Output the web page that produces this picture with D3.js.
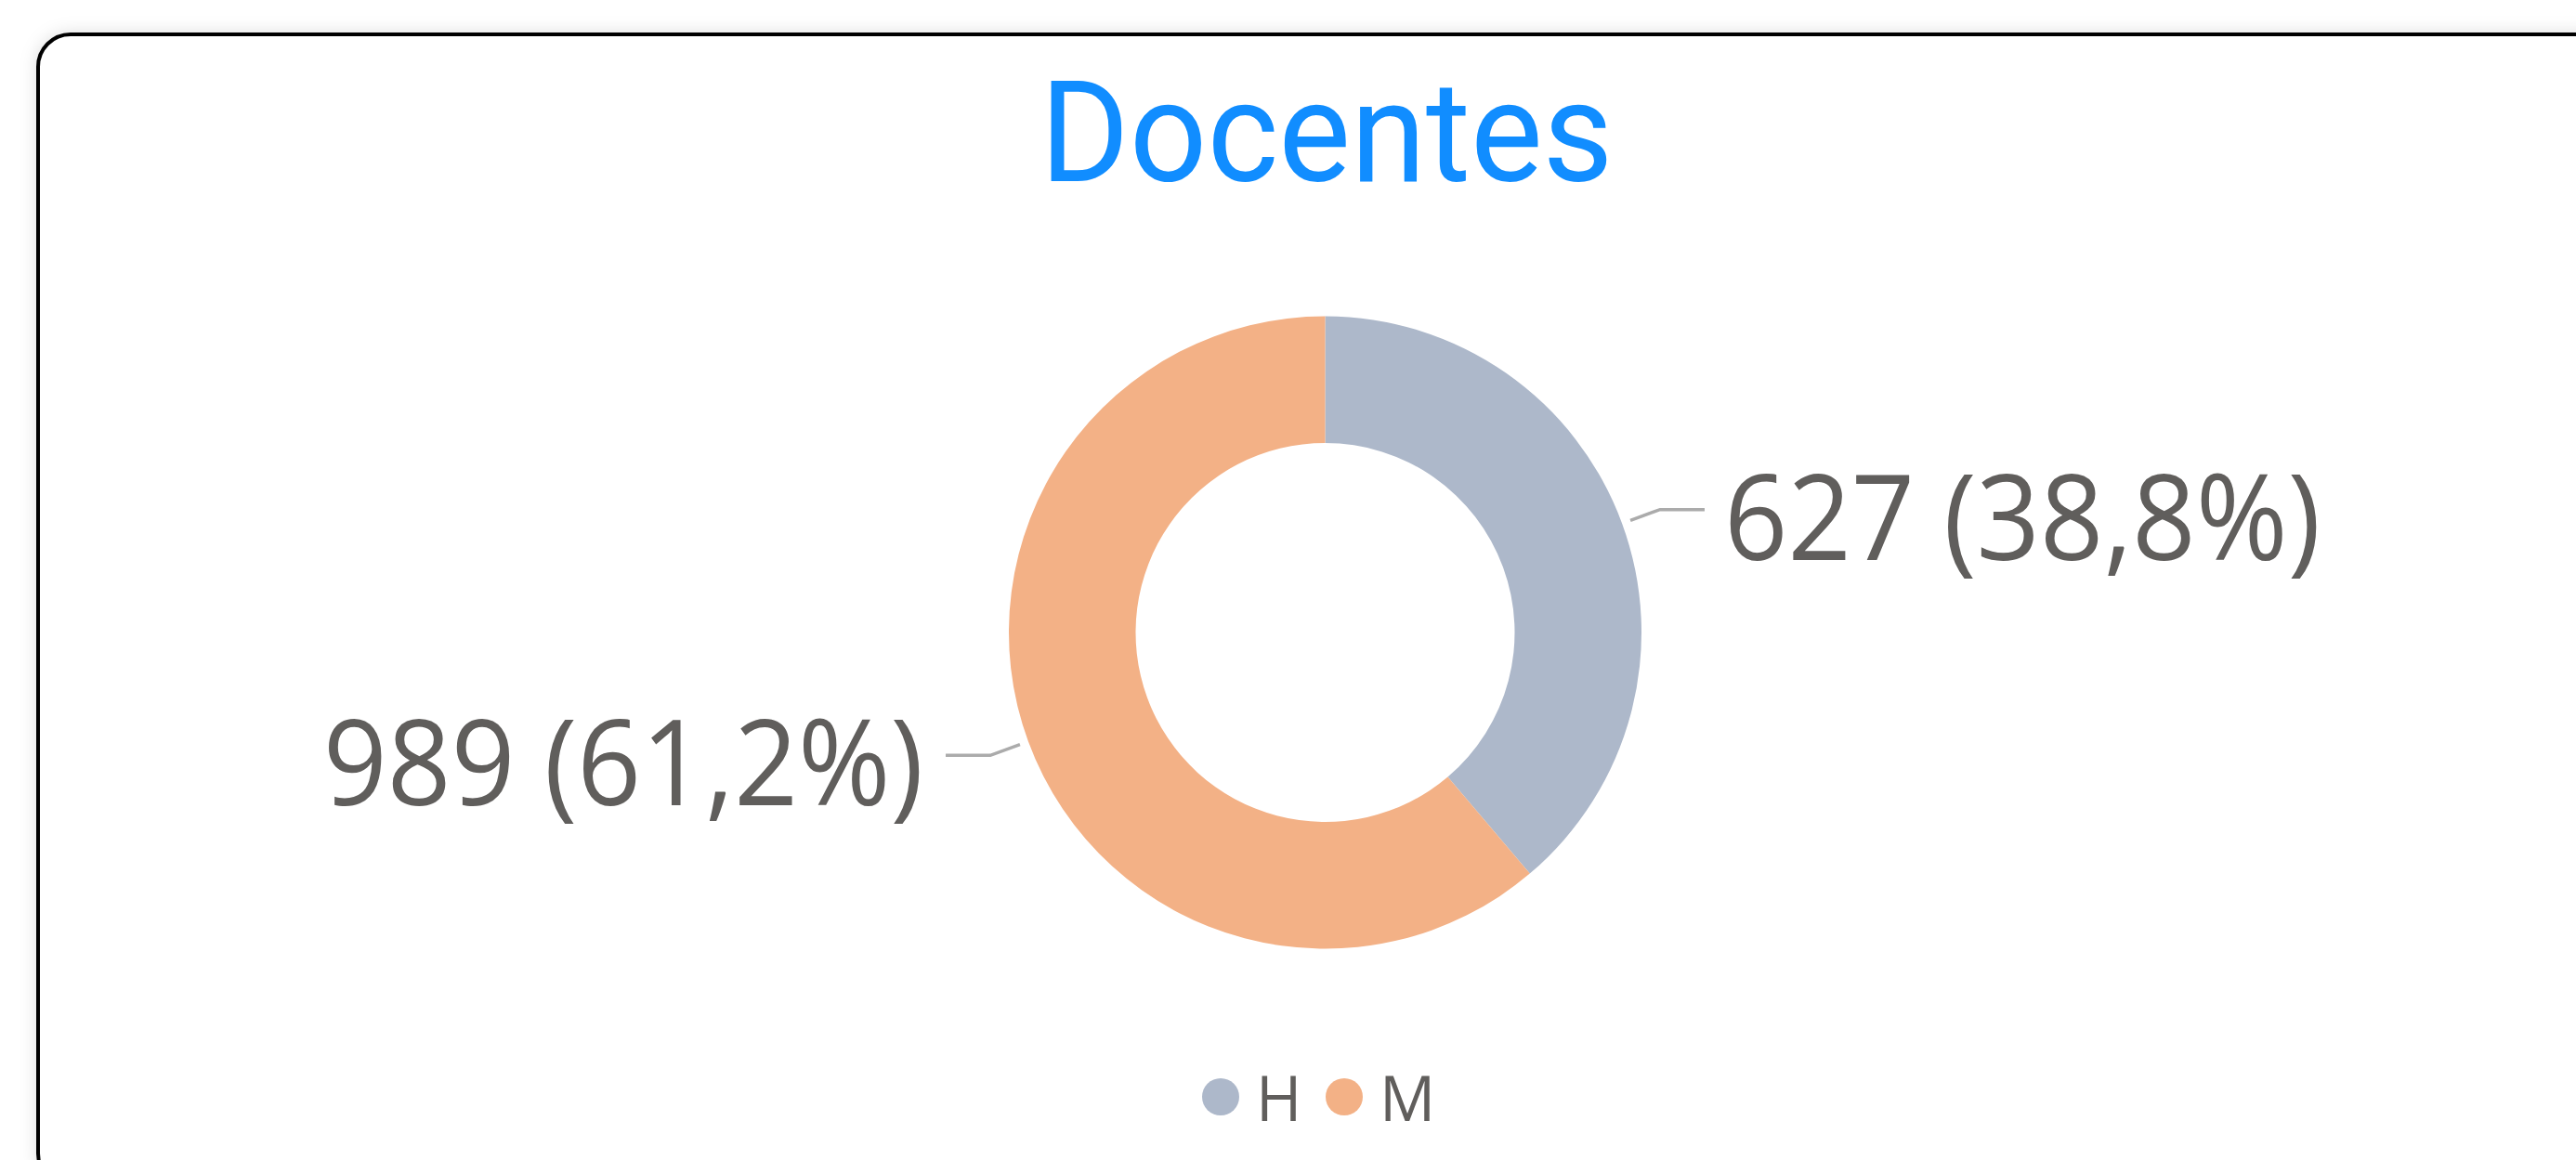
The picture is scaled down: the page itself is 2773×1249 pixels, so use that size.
<!DOCTYPE html>
<html>
<head>
<meta charset="utf-8">
<script src="https://cdn.jsdelivr.net/npm/d3@7"></script>
<style>
  body { margin: 0; background: #ffffff; overflow: hidden; }
</style>
</head>
<body>
<script>
var width = 2773;
var height = 1249;

// data
var categories = ["H", "M"];
var values = [627, 989];
var colors = ["#ADB8CA", "#F3B186"];
var title = "Docentes";

var textColor = "#605E5C";
var lineColor = "#ABABAB";

var locale = d3.formatLocale({ decimal: ",", thousands: ".", grouping: [3], currency: ["", "€"] });
var pctFormat = locale.format(".1%");

var svg = d3.select("body")
  .append("svg")
  .attr("width", width)
  .attr("height", height);

var defs = svg.append("defs");
var shadow = defs.append("filter")
  .attr("id", "shadow")
  .attr("x", "-5%").attr("y", "-5%")
  .attr("width", "110%").attr("height", "110%");
shadow.append("feDropShadow")
  .attr("dx", 0).attr("dy", 0)
  .attr("stdDeviation", 9)
  .attr("flood-color", "#000")
  .attr("flood-opacity", 0.13);

// card
svg.append("rect")
  .attr("x", 41)
  .attr("y", 37)
  .attr("width", 2800)
  .attr("height", 1240)
  .attr("rx", 35)
  .attr("fill", "#ffffff")
  .attr("stroke", "#000")
  .attr("stroke-width", 4)
  .attr("filter", "url(#shadow)");

// title
svg.append("text")
  .attr("x", 1428)
  .attr("y", 195)
  .attr("text-anchor", "middle")
  .attr("font-family", "Roboto, 'Open Sans', sans-serif")
  .attr("font-weight", 400)
  .attr("font-size", 152)
  .attr("textLength", 617)
  .attr("lengthAdjust", "spacingAndGlyphs")
  .attr("fill", "#118DFF")
  .text(title);

var cx = 1426.5, cy = 681;
var outerR = 340.5, innerR = 204;

var total = d3.sum(values);
var pieData = d3.pie().sort(null).value(function(d) { return d; })(values);

var arc = d3.arc().innerRadius(innerR).outerRadius(outerR);

var g = svg.append("g").attr("transform", "translate(" + cx + "," + cy + ")");

g.selectAll("path.slice")
  .data(pieData)
  .enter().append("path")
  .attr("class", "slice")
  .attr("d", arc)
  .attr("fill", function(d, i) { return colors[i]; });

// leader lines and labels
var startArc = d3.arc().innerRadius(350).outerRadius(350);
var elbowArc = d3.arc().innerRadius(384).outerRadius(384);
var labelWidths = [642, 646];

pieData.forEach(function(d, i) {
  var mid = (d.startAngle + d.endAngle) / 2;
  var right = mid < Math.PI;
  var p0 = startArc.centroid(d);
  var p1 = elbowArc.centroid(d);
  var p2 = [p1[0] + (right ? 48 : -48), p1[1]];

  g.append("polyline")
    .attr("points", [p0, p1, p2].map(function(p) { return p.join(","); }).join(" "))
    .attr("fill", "none")
    .attr("stroke", lineColor)
    .attr("stroke-width", 3.5);

  g.append("text")
    .attr("x", p2[0] + (right ? 21 : -24))
    .attr("y", p2[1] + 54)
    .attr("text-anchor", right ? "start" : "end")
    .attr("font-family", "'Open Sans', 'Noto Sans', sans-serif")
    .attr("font-size", 128)
    .attr("textLength", labelWidths[i])
    .attr("lengthAdjust", "spacingAndGlyphs")
    .attr("fill", textColor)
    .text(values[i] + " (" + pctFormat(values[i] / total) + ")");
});

// legend
var legendX = [1314, 1447];
var legend = svg.append("g").selectAll("g")
  .data(categories)
  .enter().append("g")
  .attr("transform", function(d, i) { return "translate(" + legendX[i] + ",1181)"; });

legend.append("circle")
  .attr("r", 20)
  .attr("fill", function(d, i) { return colors[i]; });

legend.append("text")
  .attr("x", 38)
  .attr("y", 26)
  .attr("font-family", "'Open Sans', 'Noto Sans', sans-serif")
  .attr("font-size", 67)
  .attr("fill", textColor)
  .text(function(d) { return d; });
</script>
</body>
</html>
